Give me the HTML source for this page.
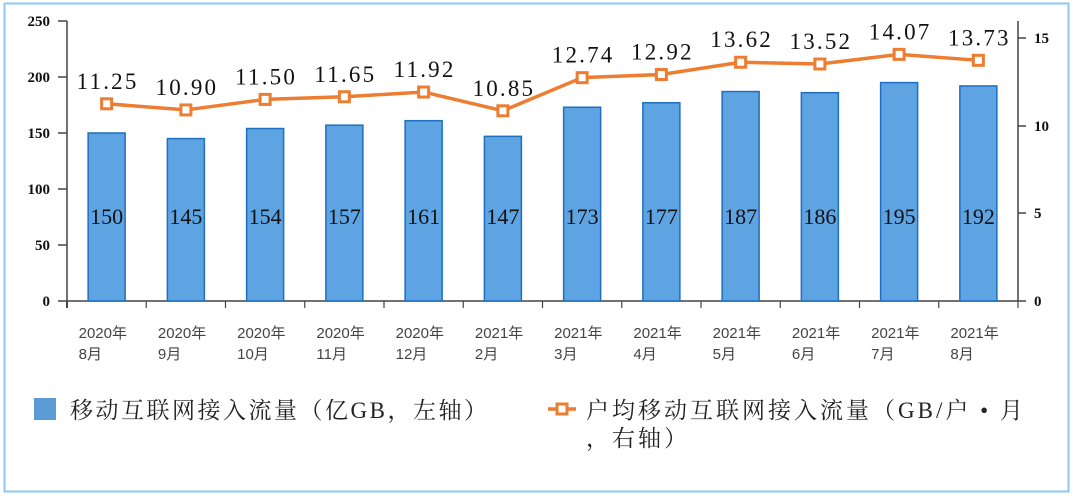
<!DOCTYPE html><html><head><meta charset="utf-8"><style>body{margin:0;background:#fff}svg{display:block}</style></head><body>
<svg width="1074" height="498" xmlns="http://www.w3.org/2000/svg">
<rect x="4.5" y="3.5" width="1064" height="488" fill="#fff" stroke="#8cc8f0" stroke-width="2"/>
<g font-family="Liberation Serif, serif" font-weight="bold" font-size="15" fill="#111" text-anchor="end">
<text x="50" y="26">250</text><text x="50" y="82">200</text><text x="50" y="138">150</text><text x="50" y="194">100</text><text x="50" y="250">50</text><text x="50" y="306">0</text>
</g>
<g stroke="#444" stroke-width="1.5">
<line x1="67" y1="21" x2="67" y2="301"/><line x1="58" y1="21" x2="67" y2="21"/><line x1="58" y1="77" x2="67" y2="77"/><line x1="58" y1="133" x2="67" y2="133"/><line x1="58" y1="189" x2="67" y2="189"/><line x1="58" y1="245" x2="67" y2="245"/><line x1="58" y1="301" x2="67" y2="301"/>
<line x1="1018" y1="21" x2="1018" y2="301"/><line x1="1018" y1="38" x2="1026" y2="38"/><line x1="1018" y1="126" x2="1026" y2="126"/><line x1="1018" y1="213" x2="1026" y2="213"/><line x1="1018" y1="301" x2="1026" y2="301"/>
<line x1="67" y1="301" x2="1018" y2="301"/>
</g>
<g stroke="#444" stroke-width="1.2" id="ticks"></g>
<g font-family="Liberation Serif, serif" font-weight="bold" font-size="15" fill="#111">
<text x="1034" y="43">15</text><text x="1034" y="131">10</text><text x="1034" y="218">5</text><text x="1034" y="306">0</text>
</g>
<g id="bars"></g>
<polyline id="line" fill="none" stroke="#ed7d31" stroke-width="3.5"/>
<g id="marks"></g>
<g id="labs"></g>
<rect x="34" y="398" width="22" height="22" fill="#5b9bd5"/>
<text x="70" y="418" font-family="Liberation Serif, 'Noto Serif CJK SC', serif" font-size="23" letter-spacing="2.5" fill="#222">移动互联网接入流量（亿GB，左轴）</text>
<line x1="548" y1="409" x2="576" y2="409" stroke="#ed7d31" stroke-width="3.5"/>
<rect x="557" y="404" width="10" height="10" fill="#fff" stroke="#ed7d31" stroke-width="3"/>
<text x="586" y="418" font-family="Liberation Serif, 'Noto Serif CJK SC', serif" font-size="23" letter-spacing="3" fill="#222">户均移动互联网接入流量（GB/户 • 月</text>
<text x="586" y="446" font-family="Liberation Serif, 'Noto Serif CJK SC', serif" font-size="23" letter-spacing="3" fill="#222">，右轴）</text>
</svg>
<script>
var b=[150,145,154,157,161,147,173,177,187,186,195,192],l=[11.25,10.90,11.50,11.65,11.92,10.85,12.74,12.92,13.62,13.52,14.07,13.73];
var c=["2020年|8月","2020年|9月","2020年|10月","2020年|11月","2020年|12月","2021年|2月","2021年|3月","2021年|4月","2021年|5月","2021年|6月","2021年|7月","2021年|8月"];
var ns="http://www.w3.org/2000/svg";function el(p,t,a,tx){var e=document.createElementNS(ns,t);for(var k in a)e.setAttribute(k,a[k]);if(tx)e.textContent=tx;document.getElementById(p).appendChild(e);}
var pts=[];
for(var i=0;i<12;i++){var cx=67+79.25*(i+.5),y=301-b[i]*1.12,ly=301-l[i]*17.53;
el("ticks","line",{x1:67+79.25*(i+1),y1:301,x2:67+79.25*(i+1),y2:308});
el("ticks","line",{x1:67,y1:301,x2:67,y2:308});
el("bars","rect",{x:cx-18.5,y:y,width:37,height:301-y,fill:"#5ea3e2",stroke:"#1f6fc0","stroke-width":1.5});
el("labs","text",{x:cx,y:224,"text-anchor":"middle","font-family":"Liberation Serif, serif","font-size":22,fill:"#111"},""+b[i]);
el("labs","text",{x:cx+1,y:ly-15,"text-anchor":"middle","font-family":"Liberation Serif, serif","font-size":23,fill:"#111","letter-spacing":"2.2"},l[i].toFixed(2));
var s=c[i].split("|");
el("labs","text",{x:cx-28,y:338,"font-family":"Liberation Sans, 'Noto Sans CJK SC', sans-serif","font-size":15,fill:"#444"},s[0]);
el("labs","text",{x:cx-28,y:359,"font-family":"Liberation Sans, 'Noto Sans CJK SC', sans-serif","font-size":15,fill:"#444"},s[1]);
pts.push(cx+","+ly);el("marks","rect",{x:cx-5,y:ly-5,width:10,height:10,fill:"#fff",stroke:"#ed7d31","stroke-width":3});}
document.getElementById("line").setAttribute("points",pts.join(" "));
</script>
</body></html>
